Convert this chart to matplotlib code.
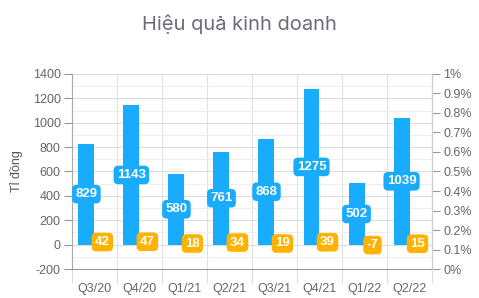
import numpy as np
import matplotlib
matplotlib.use("Agg")
import matplotlib.pyplot as plt
from matplotlib.ticker import FixedLocator, MultipleLocator, FuncFormatter

# data
quarters = ["Q3/20", "Q4/20", "Q1/21", "Q2/21", "Q3/21", "Q4/21", "Q1/22", "Q2/22"]
revenue = [829, 1143, 580, 761, 868, 1275, 502, 1039]
profit = [42, 47, 18, 34, 19, 39, -7, 15]

blue = "#1aacfc"
orange = "#ffb300"
txt = "#666666"

plt.rcParams['font.family'] = ['Liberation Sans', 'DejaVu Sans']
plt.rcParams['axes.unicode_minus'] = False

fig = plt.figure(figsize=(4.79, 2.98), dpi=100)
ax = fig.add_axes([0.150, 0.0973, 0.752, 0.6544])

x = np.arange(len(quarters))
w = 0.355
ax.bar(x - w / 2, revenue, w, color=blue, zorder=3)
ax.bar(x + w / 2, profit, w, color=orange, zorder=3)

# value labels
for i, v in enumerate(revenue):
    ax.text(x[i] - w / 2, v / 2, str(v), ha="center", va="center", color="white",
            fontsize=9.5, fontweight="bold", zorder=5,
            bbox=dict(boxstyle="round,pad=0.25,rounding_size=0.35", fc=blue, ec="none"))
for i, v in enumerate(profit):
    ax.text(x[i] + w / 2, v / 2, str(v), ha="center", va="center", color="white",
            fontsize=9.5, fontweight="bold", zorder=5,
            bbox=dict(boxstyle="round,pad=0.25,rounding_size=0.35", fc=orange, ec="none"))

ax.set_xlim(-0.5, len(quarters) - 0.5)
ax.set_ylim(-200, 1400)
ax.yaxis.set_major_locator(MultipleLocator(200))
ax.yaxis.set_minor_locator(MultipleLocator(100))
ax.grid(axis="y", which="major", color="#dddddd", lw=0.8, zorder=0)
ax.grid(axis="y", which="minor", color="#eeeeee", lw=0.8, zorder=0)

ax.set_xticks(x)
ax.set_xticklabels(quarters)
ax.xaxis.set_minor_locator(FixedLocator(np.arange(-0.5, len(quarters), 1)))
ax.grid(axis="x", which="minor", color="#e2e2e2", lw=0.8, zorder=0)
ax.tick_params(axis="x", which="major", length=0, pad=10, labelsize=9, labelcolor=txt)
ax.tick_params(axis="x", which="minor", length=10, color="#dddddd", width=0.8)
ax.tick_params(axis="y", which="major", length=6, color="#999999", labelsize=9,
               labelcolor=txt, pad=2)
ax.tick_params(axis="y", which="minor", length=0)

ax.spines["top"].set_visible(False)
ax.spines["left"].set_color("#aaaaaa")
ax.spines["right"].set_color("#cccccc")
ax.spines["bottom"].set_color("#999999")

ax.set_ylabel("Tỉ đồng", color="#555555", fontsize=9, labelpad=7)

ax2 = ax.twinx()
ax2.set_ylim(0, 0.01)
ax2.yaxis.set_major_locator(MultipleLocator(0.001))
ax2.yaxis.set_major_formatter(FuncFormatter(lambda v, p: "{:g}%".format(round(v * 100, 1))))
ax2.tick_params(axis="y", length=6, color="#999999", labelsize=9, labelcolor=txt, pad=2)
for s in ["top", "left", "bottom"]:
    ax2.spines[s].set_visible(False)
ax2.spines["right"].set_color("#cccccc")

fig.text(0.5, 0.92, "Hiệu quả kinh doanh", ha="center", va="center",
         fontsize=14.5, color="#6e6b7b", family=["Inter", "DejaVu Sans"])

fig.savefig("out.png", dpi=100)
